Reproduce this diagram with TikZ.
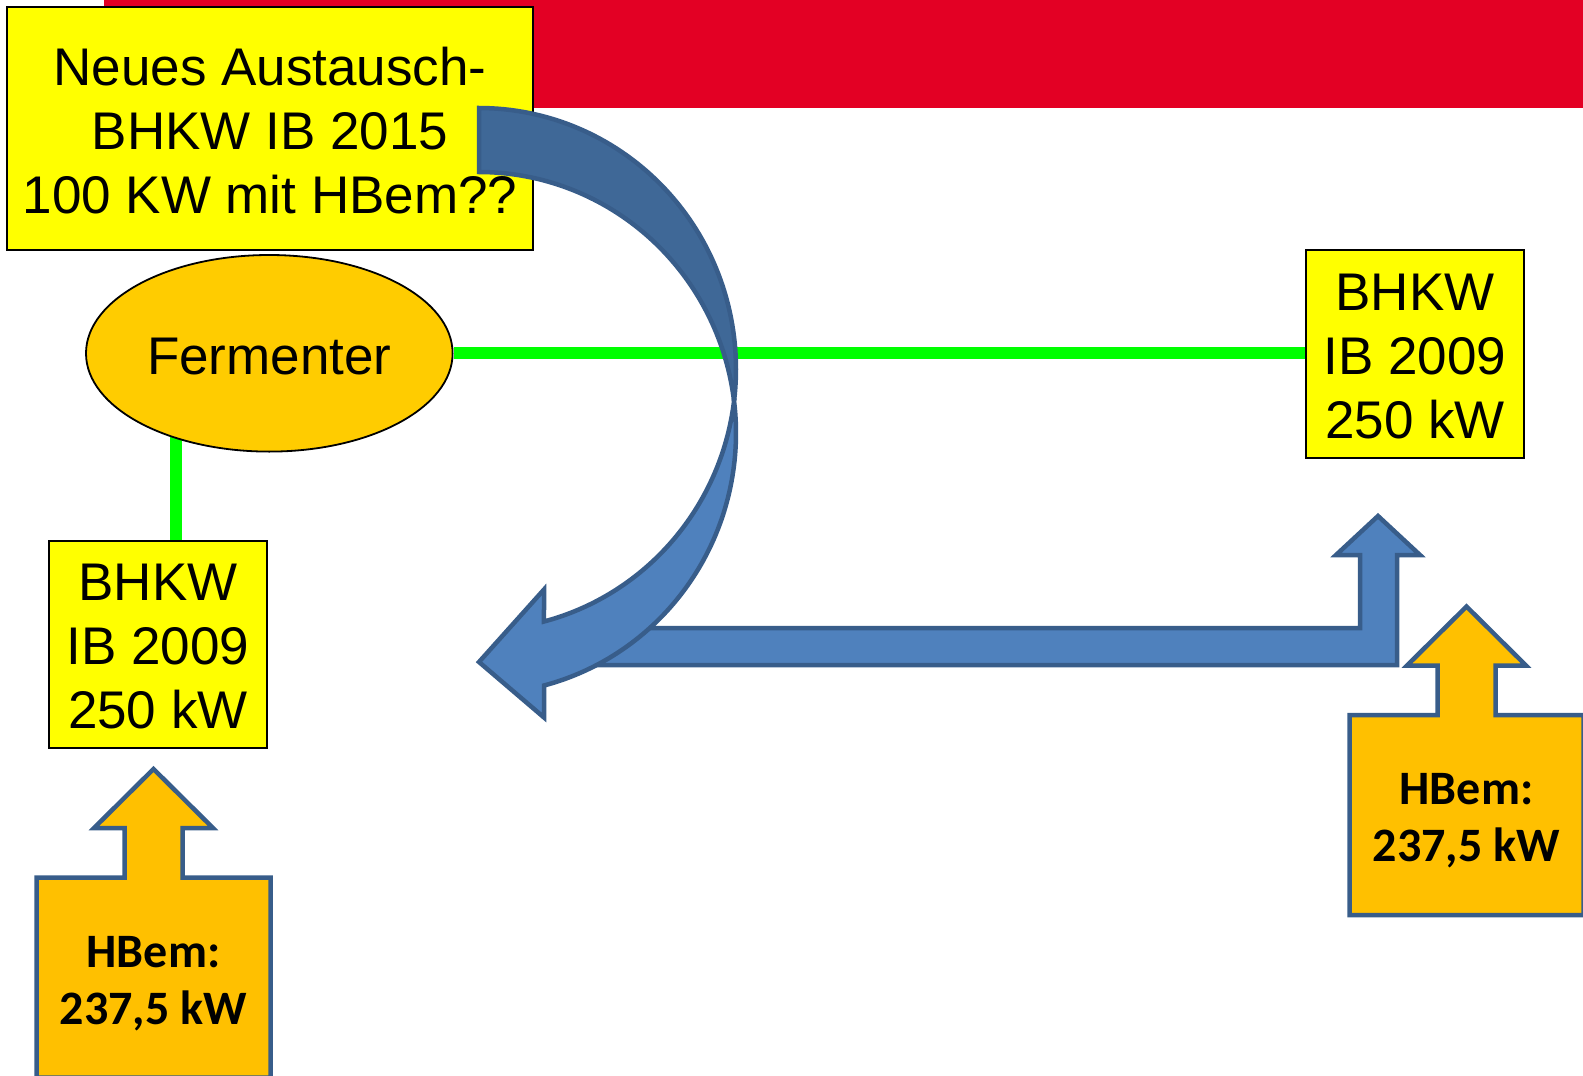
\documentclass[tikz,border=0pt]{standalone}
\usepackage{fontspec}
\setmainfont{Liberation Sans}
\newfontfamily\calibrifont{Carlito}
\usetikzlibrary{shapes.geometric}

\definecolor{barred}{RGB}{227,0,36}
\definecolor{boxyellow}{RGB}{255,255,0}
\definecolor{fermgold}{RGB}{255,204,0}
\definecolor{heatgold}{RGB}{255,192,0}
\definecolor{pipegreen}{RGB}{0,255,0}
\definecolor{arrowblue}{RGB}{79,129,189}
\definecolor{arrowdark}{RGB}{63,104,151}
\definecolor{arrowedge}{RGB}{56,93,138}

\pgfdeclarelayer{bg}
\pgfsetlayers{bg,main}

% a little extra head room keeps the lines optically centred in the boxes
\newcommand{\headroom}{\rule{0pt}{42pt}}

\tikzset{
  plantbox/.style={draw=black, line width=1.8pt, fill=boxyellow, inner sep=0pt,
    align=center, font=\fontsize{53}{64}\selectfont},
  vessel/.style={ellipse, draw=black, line width=1.8pt, fill=fermgold, inner sep=0pt,
    font=\fontsize{53}{64}\selectfont},
  greenpipe/.style={draw=pipegreen, line width=12pt},
  bluearrow/.style={fill=arrowblue, draw=arrowedge, line width=4.5pt, line join=miter},
  heatarrow/.style={fill=heatgold, draw=arrowedge, line width=4.5pt, line join=miter},
  heatlabel/.style={font=\calibrifont\bfseries\fontsize{48}{57}\selectfont,
    align=center, inner sep=0pt}
}

\begin{document}
\begin{tikzpicture}[x=1pt,y=-1pt]
\useasboundingbox (0,0) rectangle (1583,1076);
\clip (0,0) rectangle (1583,1076);

% plants and fermenter
\node[plantbox, minimum width=526pt, minimum height=243pt] (neu) at (270,128.5)
  {\headroom Neues Austausch-\\BHKW IB 2015\\100 KW mit HBem??};
\node[vessel, minimum width=366.6pt, minimum height=196.6pt] (ferm) at (269.3,353.3)
  {\headroom Fermenter};
\node[plantbox, minimum width=218pt, minimum height=207.7pt] (bhkwR) at (1415,353.9)
  {\headroom BHKW\\IB 2009\\250 kW};
\node[plantbox, minimum width=217.7pt, minimum height=207pt] (bhkwL) at (157.9,644.2)
  {\headroom BHKW\\IB 2009\\250 kW};

\coordinate (tap) at (176,353.3);

% title bar and gas pipes behind everything
\begin{pgfonlayer}{bg}
  \fill[barred] (104,0) rectangle (1583,108);
  \draw[greenpipe] (ferm.east) -- (ferm.east -| bhkwR.west);
  \draw[greenpipe] (tap) -- (tap |- bhkwL.north);
\end{pgfonlayer}

% heat use arrows
\filldraw[heatarrow] (36.5,1077.5) -- (36.5,877.5) -- (124.5,877.5) -- (124.5,828)
  -- (94,828) -- (153.5,769) -- (213,828) -- (182.5,828) -- (182.5,877.5)
  -- (270.5,877.5) -- (270.5,1077.5) -- cycle;
\node[heatlabel] (hbemL) at (153.5,983.5) {HBem:\\237,5 kW};

\filldraw[heatarrow] (1349.5,915) -- (1349.5,715) -- (1437.5,715) -- (1437.5,665.5)
  -- (1407,665.5) -- (1466.5,606.5) -- (1526,665.5) -- (1495.5,665.5) -- (1495.5,715)
  -- (1583.5,715) -- (1583.5,915) -- cycle;
\node[heatlabel] (hbemR) at (1466.5,821) {HBem:\\237,5 kW};

% bent arrow towards the right plant
\filldraw[bluearrow] (560,628) -- (1360,628) -- (1360,555) -- (1336,555) -- (1378,516)
  -- (1420,555) -- (1397,555) -- (1397,665) -- (560,665) -- cycle;

% curved arrow: rear band
\filldraw[bluearrow, fill=arrowdark]
  plot[domain=90:-7.043, samples=70, variable=\t] ({479+257*cos(\t)}, {369-261*sin(\t)})
  -- plot[domain=7.043:90, samples=70, variable=\t] ({479+257*cos(\t)}, {433-261*sin(\t)})
  -- cycle;
% curved arrow: front band with head
\filldraw[bluearrow]
  plot[domain=7.043:-75.35, samples=70, variable=\t] ({479+257*cos(\t)}, {433-261*sin(\t)})
  -- (544,717.5) -- (479,662) -- (544,589.5)
  -- plot[domain=-75.35:-7.043, samples=70, variable=\t] ({479+257*cos(\t)}, {369-261*sin(\t)})
  -- cycle;
\end{tikzpicture}
\end{document}
